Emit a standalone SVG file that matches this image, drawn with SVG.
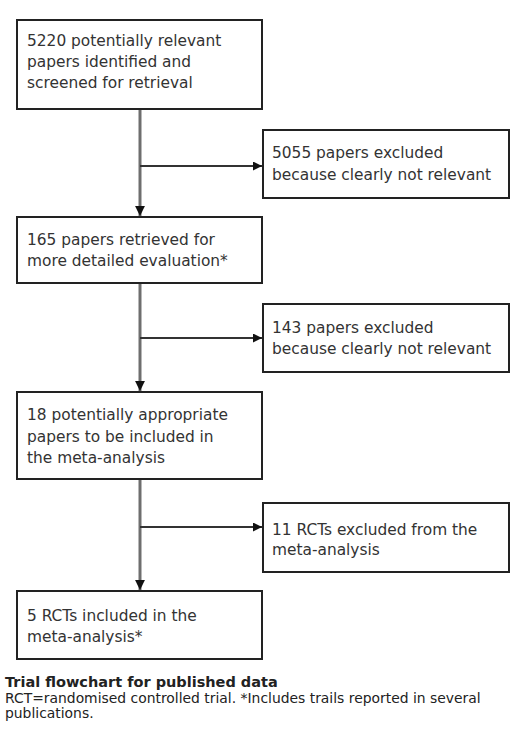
<svg xmlns="http://www.w3.org/2000/svg" width="519" height="735" viewBox="0 0 519 735">
<defs>
<style>
.box{fill:#fff;stroke:#222;stroke-width:2}
.t{font-family:"DejaVu Sans",Verdana,sans-serif;font-size:15.4px;fill:#333}
.v{stroke:#6e6e6e;stroke-width:3;fill:none}
.h{stroke:#333;stroke-width:2;fill:none}
.cap{font-family:"DejaVu Sans",Verdana,sans-serif;fill:#222}
</style>
<marker id="ah" viewBox="0 0 10 10" refX="10" refY="5" markerWidth="3.3" markerHeight="3.3" orient="auto" markerUnits="strokeWidth">
<path d="M0,0 L10,5 L0,10 z" fill="#111"/>
</marker>
<marker id="ah2" viewBox="0 0 10 10" refX="10" refY="5" markerWidth="4.5" markerHeight="4.5" orient="auto" markerUnits="strokeWidth">
<path d="M0,0 L10,5 L0,10 z" fill="#111"/>
</marker>
</defs>
<rect width="519" height="735" fill="#fff"/>
<g id="connectors">
<line class="v" x1="140" y1="109" x2="140" y2="216" marker-end="url(#ah)"/>
<line class="v" x1="140" y1="283" x2="140" y2="391" marker-end="url(#ah)"/>
<line class="v" x1="140" y1="479" x2="140" y2="590" marker-end="url(#ah)"/>
<line class="h" x1="140" y1="166" x2="262" y2="166" marker-end="url(#ah2)"/>
<line class="h" x1="140" y1="338" x2="262" y2="338" marker-end="url(#ah2)"/>
<line class="h" x1="140" y1="527" x2="262" y2="527" marker-end="url(#ah2)"/>
</g>
<g id="n1"><rect class="box" x="17" y="20" width="245" height="89"/>
<text class="t" x="27" y="46">5220 potentially relevant</text>
<text class="t" x="27" y="67">papers identified and</text>
<text class="t" x="27" y="88">screened for retrieval</text></g>
<g id="n2"><rect class="box" x="263" y="130" width="246" height="68"/>
<text class="t" x="272" y="158">5055 papers excluded</text>
<text class="t" x="272" y="180">because clearly not relevant</text></g>
<g id="n3"><rect class="box" x="17" y="217" width="245" height="66"/>
<text class="t" x="27" y="245">165 papers retrieved for</text>
<text class="t" x="27" y="266">more detailed evaluation*</text></g>
<g id="n4"><rect class="box" x="263" y="304" width="246" height="68"/>
<text class="t" x="272" y="333">143 papers excluded</text>
<text class="t" x="272" y="354">because clearly not relevant</text></g>
<g id="n5"><rect class="box" x="17" y="392" width="245" height="87"/>
<text class="t" x="27" y="420">18 potentially appropriate</text>
<text class="t" x="27" y="442">papers to be included in</text>
<text class="t" x="27" y="463">the meta-analysis</text></g>
<g id="n6"><rect class="box" x="263" y="503" width="246" height="69"/>
<text class="t" x="272" y="535">11 RCTs excluded from the</text>
<text class="t" x="272" y="555">meta-analysis</text></g>
<g id="n7"><rect class="box" x="17" y="591" width="245" height="68"/>
<text class="t" x="27" y="621">5 RCTs included in the</text>
<text class="t" x="27" y="642">meta-analysis*</text></g>
<g id="caption">
<text class="cap" x="5" y="687" font-size="14.5" font-weight="bold">Trial flowchart for published data</text>
<text class="cap" x="5" y="703" font-size="13.9" fill="#444">RCT=randomised controlled trial. *Includes trails reported in several</text>
<text class="cap" x="5" y="718" font-size="13.9" fill="#444">publications.</text>
</g>
</svg>
